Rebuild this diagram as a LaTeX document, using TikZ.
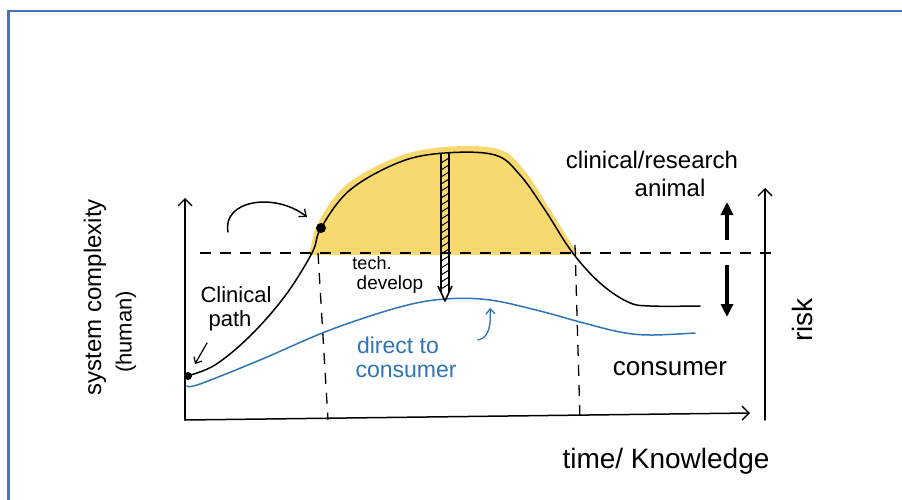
\documentclass[tikz,border=0pt]{standalone}
\usepackage{fontspec}
\setmainfont{Liberation Sans}
\usetikzlibrary{arrows.meta}
\definecolor{frameblue}{RGB}{68,114,196}
\definecolor{inkblue}{RGB}{46,117,182}
\definecolor{hilite}{RGB}{248,217,112}
\tikzset{
  ink/.style={line width=1.5pt, line cap=round, line join=round},
  axisline/.style={ink, -{Straight Barb[length=7pt,width=14pt,line width=1.4pt]}},
  guide/.style={line width=1.3pt, dash pattern=on 11pt off 9pt},
  label/.style={inner sep=0pt, font=\fontsize{22}{24}\selectfont},
  riskarrow/.style={line width=3.2pt, -{Triangle[length=13pt,width=12pt]}},
  dot/.style={circle, fill=black, inner sep=0pt, minimum size=8pt}
}
\begin{document}
\begin{tikzpicture}[x=1pt,y=-1pt]
\useasboundingbox (0,0) rectangle (902,500);
\fill[white] (0,0) rectangle (902,500);
% frame
\draw[frameblue, line width=2.2pt] (8.5,500) -- (8.5,11) -- (902,11);

% key points
\coordinate (origin) at (185,420);
\coordinate (ytop) at (185,198);
\coordinate (xend) at (750,413);
\coordinate (rbot) at (765,420);
\coordinate (rtop) at (765,188);

% highlighted region above the threshold
\begin{scope}
  \clip (0,0) rectangle (902,254);
  \fill[hilite] plot[smooth, tension=0.6] coordinates {(303,262) (310,250) (318,223) (346,185) (397,157) (445,147) (498,149) (524,170) (549,208) (580,258)} -- cycle;
\end{scope}

% threshold and phase boundaries
\draw[guide] (200,253) -- (778,253);
\draw[guide] (318,253) -- (328,420);
\draw[guide] (575,245) -- (580,420);

% axes
\draw[axisline] (origin) -- (ytop);
\draw[axisline] (origin) -- (xend);
\draw[axisline] (rbot) -- (rtop);

% clinical path curve
\draw[ink] plot[smooth, tension=0.6] coordinates {(187,376) (215,365) (250,336) (285,296) (312,253) (321,228) (350,190) (400,162) (445,153) (495,155) (520,175) (545,210) (572,252) (600,283) (628,302) (650,306) (700,306)};

% direct to consumer curve
\draw[inkblue, ink] plot[smooth, tension=0.6] coordinates {(187,386) (200,384) (260,360) (330,330) (400,307) (445,299) (490,300) (540,311) (580,322) (620,332) (650,335) (695,333)};

% markers
\node[dot] (start) at (188,376) {};
\node[dot, minimum width=7pt, minimum height=10pt] (jump) at (321,228) {};

% hatched technology-development arrow
\coordinate (hatchtop) at (445,153);
\coordinate (hatchtip) at (445,301);
\draw[line width=1.2pt] (441,153) -- (441,292);
\draw[line width=1.2pt] (449,153) -- (449,292);
\foreach \yy in {158,165,...,287} {
  \draw[line width=1pt] (441,\yy+5) -- (449,\yy);
}
\draw[line width=1.6pt, line join=round] (438,286) -- (hatchtip) -- (452,286);

% risk arrows
\coordinate (upfrom) at (727,240);
\coordinate (upto) at (727,202);
\coordinate (dnfrom) at (727,265);
\coordinate (dnto) at (727,317);
\draw[riskarrow] (upfrom) -- (upto);
\draw[riskarrow] (dnfrom) -- (dnto);

% small pointer arrows
\coordinate (hopfrom) at (228,232);
\coordinate (hopto) at (307,217);
\draw[ink, -{Straight Barb[length=6pt,width=10pt,line width=1.3pt]}] (hopfrom) .. controls (222,200) and (275,192) .. (hopto);
\coordinate (cpfrom) at (207,343);
\coordinate (cpto) at (195,364);
\draw[ink, line width=1.2pt, -{Straight Barb[length=5pt,width=9pt,line width=1.2pt]}] (cpfrom) -- (cpto);
\coordinate (dcfrom) at (478,340);
\coordinate (dcto) at (490,308);
\draw[inkblue, ink, line width=1.3pt, -{Straight Barb[length=5pt,width=9pt,line width=1.3pt]}] (dcfrom) .. controls (490,338) and (491,322) .. (dcto);

% labels
\node[label, rotate=90, font=\fontsize{24}{26}\selectfont] (ylab) at (95,297) {system complexity};
\node[label, rotate=90] (ylab2) at (126,332) {(human)};
\node[label] (clin1) at (236,295) {Clinical};
\node[label] (clin2) at (230,321) {path};
\node[label, font=\fontsize{18}{20}\selectfont] (tech1) at (372,263) {tech.};
\node[label, font=\fontsize{19}{21}\selectfont] (tech2) at (390,285) {develop};
\node[label, font=\fontsize{23}{25}\selectfont, text=inkblue] (dtc1) at (398,345) {direct to};
\node[label, font=\fontsize{23}{25}\selectfont, text=inkblue] (dtc2) at (406,371) {consumer};
\node[label, font=\fontsize{26}{28}\selectfont] (cons) at (670,369) {consumer};
\node[label, font=\fontsize{24}{26}\selectfont] (clres) at (652,160) {clinical/research};
\node[label, font=\fontsize{24}{26}\selectfont] (anim) at (670,188) {animal};
\node[label, rotate=90, font=\fontsize{28}{30}\selectfont] (risk) at (802,320) {risk};
\node[label, font=\fontsize{28}{30}\selectfont] (tk) at (666,461) {time/ Knowledge};
\end{tikzpicture}
\end{document}
